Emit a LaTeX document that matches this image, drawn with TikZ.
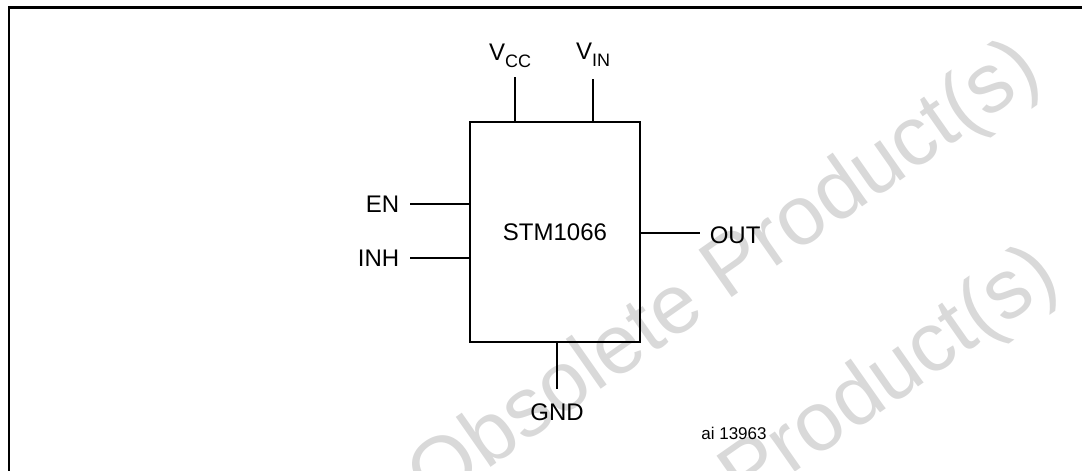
\documentclass[tikz,border=0pt]{standalone}
\usepackage{fontspec}
\setmainfont{Liberation Sans}
\usetikzlibrary{positioning}
\newcommand{\pinsub}[2]{#1\raisebox{-3.5pt}{\fontsize{9}{10}\selectfont #2}}
\tikzset{
  chipbox/.style={draw, line width=1.4pt, minimum width=85pt, minimum height=110pt, inner sep=0pt, font=\fontsize{12}{14}\selectfont},
  pinline/.style={line width=1pt},
  pinlabel/.style={inner sep=0pt, font=\fontsize{12}{14}\selectfont},
  codelabel/.style={inner sep=0pt, font=\fontsize{8.5}{10}\selectfont},
  watermark/.style={text=black!15, rotate=35, inner sep=0pt, font=\fontsize{42}{50}\selectfont},
  frameline/.style={line width=1.1pt}
}

\begin{document}
\begin{tikzpicture}[x=0.5pt, y=-0.5pt, node distance=5pt]
  \useasboundingbox (0,0) rectangle (1082,471);
  \clip (0,0) rectangle (1082,471);
  % watermark behind the drawing
  \node[watermark] (wm1) at (726,276) {Obsolete Product(s)};
  \node[watermark] (wm2) at (744,482) {Obsolete Product(s)};
  % figure frame
  \draw[frameline] (9,490) -- (9,7.5) -- (1100,7.5);

  \node[chipbox] (chip) at (555,232) {STM1066};

  \coordinate (vcc) at ([xshift=-20pt, yshift=22pt]chip.north);
  \coordinate (vin) at ([xshift=19pt, yshift=21pt]chip.north);
  \coordinate (en)  at ([xshift=-29.5pt, yshift=14pt]chip.west);
  \coordinate (inh) at ([xshift=-29.5pt, yshift=-13pt]chip.west);
  \coordinate (out) at ([xshift=29.5pt, yshift=-0.5pt]chip.east);
  \coordinate (gnd) at ([xshift=1pt, yshift=-23pt]chip.south);

  \draw[pinline] (chip.north -| vcc) -- (vcc);
  \draw[pinline] (chip.north -| vin) -- (vin);
  \draw[pinline] (chip.west |- en) -- (en);
  \draw[pinline] (chip.west |- inh) -- (inh);
  \draw[pinline] (chip.east |- out) -- (out);
  \draw[pinline] (chip.south -| gnd) -- (gnd);

  \node[pinlabel, above=4.5pt of vcc, xshift=-2.5pt] (vcclbl) {\pinsub{V}{CC}};
  \node[pinlabel, above=6pt of vin] (vinlbl) {\pinsub{V}{IN}};
  \node[pinlabel, left=of en] (enlbl) {EN};
  \node[pinlabel, left=of inh] (inhlbl) {INH};
  \node[pinlabel, right=4.5pt of out, yshift=-1pt] (outlbl) {OUT};
  \node[pinlabel, below=7pt of gnd] (gndlbl) {GND};

  \node[codelabel] (code) at (734,433) {ai 13963};
\end{tikzpicture}
\end{document}
